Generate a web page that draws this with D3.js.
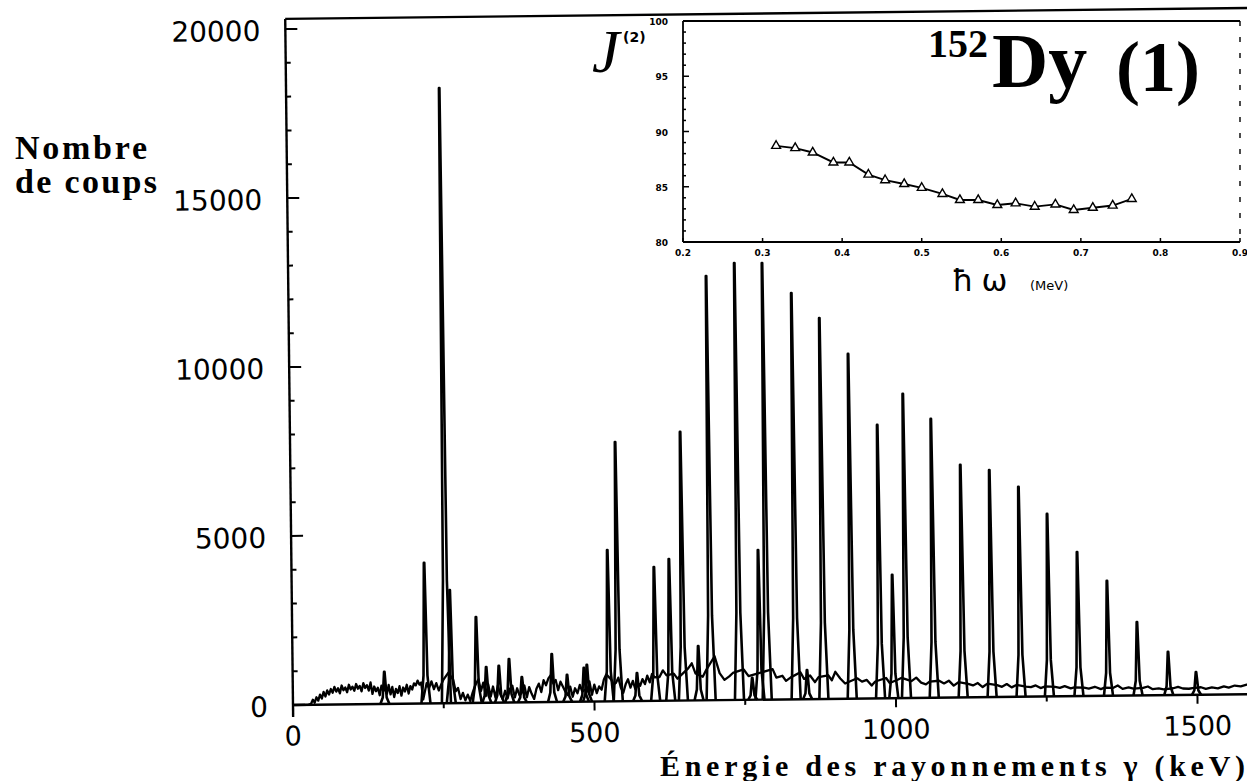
<!DOCTYPE html>
<html>
<head>
<meta charset="utf-8">
<script src="https://cdn.jsdelivr.net/npm/d3@7"></script>
<style>
  html, body { margin: 0; padding: 0; background: #fff; }
  svg { display: block; }
</style>
</head>
<body>
<script>
// ---------------- DATA ----------------
// Main spectrum: discrete gamma lines (keV, counts)
const peakEnergy = [152, 220, 254, 262, 305, 321, 342, 359, 380, 430, 455, 483, 488,
  524, 539, 571, 601, 626, 647, 673, 693, 740, 762, 774, 786, 834, 853, 880, 927, 974, 996,
  1017, 1063, 1111, 1159, 1207, 1254, 1303, 1352, 1401, 1452, 1498];
const peakCounts = [950, 4160, 18200, 3350, 2540, 1060, 1090, 1290, 750, 1420, 800, 1000, 1090,
  4480, 7670, 830, 3960, 4190, 7950, 1610, 12550, 12930, 650, 4430, 12920, 12020, 860, 11270, 10200, 8090, 3650,
  9000, 8250, 6880, 6720, 6210, 5400, 4260, 3400, 2170, 1280, 670];

// Main spectrum: continuum / background trace (keV, counts)
const bgEnergy = [0, 25,
  30, 33, 36, 39, 42, 45, 48, 51, 54, 57, 60, 63, 66, 69, 72, 75, 78, 81, 84, 87, 90, 93, 96, 99,
  102, 105, 108, 111, 114, 117, 120, 123, 126, 129, 132, 135, 138, 141, 144, 147, 150, 153, 156, 159,
  162, 165, 168, 171, 174, 177, 180, 183, 186, 189, 192, 195, 198, 201, 204, 207, 210, 213, 216,
  222, 226, 230, 234, 238, 242, 246, 250, 258, 266, 270, 274, 278, 282, 286, 290, 294, 298, 302, 308,
  312, 316, 320, 324, 328, 332, 336, 340, 344, 348, 352, 356, 360, 364, 368, 372, 376, 380, 384, 388,
  392, 396, 400, 404, 408, 412, 416, 420, 424, 428, 432, 436, 440, 444, 448, 452, 456, 460, 464, 468,
  472, 476, 480, 484, 488, 492, 496, 500, 504, 508, 512, 516, 520, 528, 532, 536, 540, 544, 548, 552,
  556, 560, 564, 568, 572, 576, 580, 584, 588, 592, 596, 600,
  608, 614, 620, 632, 638, 656, 662, 668, 680, 686, 700, 708, 716, 724, 730, 748, 756, 766, 796, 802,
  812, 818, 826, 842, 848, 858, 866, 872, 888, 894, 900, 908, 916, 936, 944, 952, 960, 966, 984, 990,
  1004, 1010, 1026, 1034, 1042, 1050, 1056, 1072, 1080, 1088, 1096, 1104, 1120, 1128, 1136, 1144, 1152, 1168, 1176, 1184,
  1192, 1200, 1216, 1224, 1232, 1240, 1248, 1264, 1272, 1280, 1290, 1296, 1312, 1320, 1330, 1340, 1346, 1360, 1368, 1376,
  1386, 1394, 1410, 1418, 1426, 1436, 1444, 1460, 1468, 1476, 1486, 1492, 1506, 1514, 1524, 1534, 1544, 1552, 1562, 1572,
  1582, 1590];
const bgCounts = [0, 0,
  30, 150, 60, 220, 120, 300, 180, 380, 240, 420, 300, 460, 350, 520, 380, 480, 330, 560, 420, 500, 360, 580, 440, 520,
  400, 600, 460, 540, 380, 620, 480, 560, 400, 640, 300, 520, 380, 480, 260, 540, 380, 460, 300, 560,
  280, 500, 200, 440, 320, 520, 240, 480, 360, 560, 300, 520, 420, 600, 540, 680, 560, 620, 120,
  600, 450, 650, 420, 600, 380, 550, 700, 900, 700, 350, 450, 120, 300, 80, 250, 60, 300, 500, 700,
  350, 600, 200, 550, 180, 480, 150, 500, 250, 100, 350, 120, 400, 500, 150, 420, 200, 300, 500, 150,
  450, 250, 100, 400, 550, 300, 650, 500, 700, 800, 550, 650, 350, 600, 450, 300, 200, 450, 150, 400,
  250, 500, 300, 350, 300, 600, 200, 500, 250, 450, 350, 650, 800, 650, 500, 550, 700, 400, 250, 500,
  650, 400, 600, 350, 550, 450, 650, 500, 750, 550, 800, 700,
  700, 900, 750, 800, 650, 950, 1100, 800, 700, 900, 1300, 800, 600, 700, 800, 900, 700, 750, 900, 650,
  700, 550, 650, 800, 600, 700, 500, 650, 700, 550, 800, 600, 450, 600, 500, 550, 380, 500, 600, 450,
  550, 600, 500, 600, 450, 400, 480, 500, 420, 500, 350, 450, 400, 350, 420, 300, 400, 350, 300, 380,
  280, 350, 300, 280, 330, 250, 300, 280, 250, 300, 230, 260, 250, 220, 270, 200, 240, 230, 300, 200,
  240, 200, 220, 260, 180, 200, 170, 200, 240, 190, 180, 200, 220, 170, 210, 180, 240, 200, 260, 230,
  280, 300];

const yTickValues = [0, 5000, 10000, 15000, 20000];
const xTickValues = [0, 500, 1000, 1500];

// Inset: J(2) dynamic moment of inertia vs rotational frequency
const hw = [0.317, 0.341, 0.363, 0.389, 0.409, 0.433, 0.454, 0.478, 0.500, 0.526,
  0.548, 0.571, 0.595, 0.618, 0.642, 0.668, 0.691, 0.715, 0.740, 0.764];
const j2 = [88.7, 88.5, 88.1, 87.2, 87.2, 86.1, 85.6, 85.25, 84.9, 84.35,
  83.8, 83.8, 83.35, 83.5, 83.2, 83.4, 82.9, 83.1, 83.3, 83.9];
const insetYTicks = [80, 85, 90, 95, 100];
const insetXTicks = [0.2, 0.3, 0.4, 0.5, 0.6, 0.7, 0.8, 0.9];

// ---------------- DRAW ----------------
const W = 1247, H = 781;
const svg = d3.select("body").append("svg").attr("width", W).attr("height", H);
svg.append("rect").attr("width", W).attr("height", H).attr("fill", "#fff");

const x = d3.scaleLinear().domain([0, 1500]).range([293, 1197.5]);
const y = d3.scaleLinear().domain([0, 20000]).range([705, 29]);

// slight scan skew of the original page
const g = svg.append("g").attr("transform", "rotate(-0.65,293,705)");

const ink = "#000";
const topVal = 20300;

// frame: y axis, top line, baseline
g.append("line").attr("x1", x(0)).attr("x2", x(0)).attr("y1", y(topVal)).attr("y2", y(0) + 12)
  .attr("stroke", ink).attr("stroke-width", 2.4);
g.append("line").attr("x1", x(0)).attr("x2", x(1700)).attr("y1", y(topVal)).attr("y2", y(topVal))
  .attr("stroke", ink).attr("stroke-width", 2.4);
g.append("line").attr("x1", x(0)).attr("x2", x(1700)).attr("y1", y(0)).attr("y2", y(0))
  .attr("stroke", ink).attr("stroke-width", 2.4);

// y ticks (inward)
const yMinor = d3.range(0, 20001, 1000);
g.selectAll(".ytick").data(yMinor).join("line")
  .attr("x1", x(0)).attr("x2", d => x(0) + (d % 5000 === 0 ? 12 : 5))
  .attr("y1", d => y(d)).attr("y2", d => y(d))
  .attr("stroke", ink).attr("stroke-width", 2);
g.selectAll(".ylab").data(yTickValues).join("text")
  .attr("x", x(0) - 25).attr("y", d => y(d) + 2)
  .attr("text-anchor", "end").attr("dominant-baseline", "central")
  .attr("font-family", "DejaVu Sans, sans-serif").attr("font-size", 28)
  .text(d => d);

// x ticks (outward, every 250 keV)
const xMinor = d3.range(0, 1751, 250);
g.selectAll(".xtick").data(xMinor).join("line")
  .attr("x1", d => x(d)).attr("x2", d => x(d))
  .attr("y1", y(0)).attr("y2", d => y(0) + (d % 500 === 0 ? 9 : 5))
  .attr("stroke", ink).attr("stroke-width", 2);
g.selectAll(".xlab").data(xTickValues).join("text")
  .attr("x", d => x(d)).attr("y", y(0) + 31)
  .attr("text-anchor", "middle").attr("dominant-baseline", "central")
  .attr("font-family", "DejaVu Sans, sans-serif").attr("font-size", 27)
  .text(d => d);

// spectrum background trace
const bgPts = d3.zip(bgEnergy, bgCounts);
g.append("path").datum(bgPts)
  .attr("d", d3.line().x(d => x(d[0])).y(d => y(d[1])))
  .attr("fill", "none").attr("stroke", ink).attr("stroke-width", 2.3).attr("stroke-linejoin", "round");

// spectrum peaks (narrow line profile glyph)
const peakShape = [[-7, 0], [-3, 0.2], [-1.2, 0.75], [-0.4, 1], [0.4, 1], [1.4, 0.75], [3.5, 0.2], [8, 0]];
const peakLine = d3.line().x(d => d[0]).y(d => d[1]);
g.selectAll(".peak").data(d3.zip(peakEnergy, peakCounts)).join("path")
  .attr("d", ([e, c]) => peakLine(peakShape.map(([dk, f]) => [x(e + dk), y(f * c)])))
  .attr("fill", "none").attr("stroke", ink).attr("stroke-width", 2.6).attr("stroke-linejoin", "round");

// axis titles
const serif = "Liberation Serif, Times New Roman, serif";
svg.append("text").attr("x", 15).attr("y", 159).attr("font-family", serif)
  .attr("font-weight", "bold").attr("font-size", 34)
  .attr("textLength", 132).attr("lengthAdjust", "spacing").text("Nombre");
svg.append("text").attr("x", 15).attr("y", 193).attr("font-family", serif)
  .attr("font-weight", "bold").attr("font-size", 34)
  .attr("textLength", 142).attr("lengthAdjust", "spacing").text("de coups");
svg.append("text").attr("x", 660).attr("y", 776).attr("font-family", serif)
  .attr("font-weight", "bold").attr("font-size", 30)
  .attr("textLength", 585).attr("lengthAdjust", "spacing")
  .text("Énergie des rayonnements γ (keV)");

// ---------------- INSET ----------------
const ix = d3.scaleLinear().domain([0.2, 0.9]).range([683, 1240]);
const iy = d3.scaleLinear().domain([80, 100]).range([242, 21]);
const ig = svg.append("g");

ig.append("line").attr("x1", ix(0.2)).attr("x2", ix(0.2)).attr("y1", iy(100)).attr("y2", iy(80))
  .attr("stroke", ink).attr("stroke-width", 1.8);
ig.append("line").attr("x1", ix(0.2)).attr("x2", ix(0.9)).attr("y1", iy(80)).attr("y2", iy(80))
  .attr("stroke", ink).attr("stroke-width", 1.8);
ig.append("line").attr("x1", ix(0.2)).attr("x2", ix(0.9)).attr("y1", iy(100)).attr("y2", iy(100))
  .attr("stroke", ink).attr("stroke-width", 1.8);
ig.append("line").attr("x1", ix(0.9)).attr("x2", ix(0.9)).attr("y1", iy(100)).attr("y2", iy(80))
  .attr("stroke", ink).attr("stroke-width", 1.4).attr("stroke-dasharray", "5,11");

ig.selectAll(".iyt").data(d3.range(80, 100.01, 1)).join("line")
  .attr("x1", ix(0.2)).attr("x2", d => ix(0.2) + (d % 5 === 0 ? 6 : 3))
  .attr("y1", d => iy(d)).attr("y2", d => iy(d))
  .attr("stroke", ink).attr("stroke-width", 1.5);
ig.selectAll(".ixt").data(insetXTicks).join("line")
  .attr("x1", d => ix(d)).attr("x2", d => ix(d))
  .attr("y1", iy(80)).attr("y2", iy(80) - 4)
  .attr("stroke", ink).attr("stroke-width", 1.5);

ig.selectAll(".iyl").data(insetYTicks).join("text")
  .attr("x", ix(0.2) - 15).attr("y", d => iy(d) + 1)
  .attr("text-anchor", "end").attr("dominant-baseline", "central")
  .attr("font-family", "DejaVu Sans, sans-serif").attr("font-weight", "bold").attr("font-size", 9)
  .text(d => d);
ig.selectAll(".ixl").data(insetXTicks).join("text")
  .attr("x", d => ix(d)).attr("y", iy(80) + 11)
  .attr("text-anchor", "middle").attr("dominant-baseline", "central")
  .attr("font-family", "DejaVu Sans, sans-serif").attr("font-weight", "bold").attr("font-size", 9)
  .text(d => d.toFixed(1));

const ipts = d3.zip(hw, j2);
ig.append("path").datum(ipts)
  .attr("d", d3.line().x(d => ix(d[0])).y(d => iy(d[1])))
  .attr("fill", "none").attr("stroke", ink).attr("stroke-width", 1.9);
ig.selectAll(".mk").data(ipts).join("path")
  .attr("transform", d => `translate(${ix(d[0])},${iy(d[1])})`)
  .attr("d", d3.symbol(d3.symbolTriangle).size(34))
  .attr("fill", "#fff").attr("stroke", ink).attr("stroke-width", 1.4);

// inset labels
svg.append("text").attr("x", 592).attr("y", 72).attr("font-family", serif)
  .attr("font-style", "italic").attr("font-size", 62).text("J");
svg.append("text").attr("x", 623).attr("y", 42).attr("font-family", "DejaVu Sans, sans-serif")
  .attr("font-weight", "bold").attr("font-size", 14).text("(2)");

const title = svg.append("text").attr("font-family", serif).attr("font-weight", "bold");
title.append("tspan").attr("x", 928).attr("y", 57).attr("font-size", 40).text("152");
title.append("tspan").attr("x", 992).attr("y", 87).attr("font-size", 78).text("Dy");
title.append("tspan").attr("x", 1116).attr("y", 91).attr("font-size", 72).text("(1)");

svg.append("text").attr("x", 952).attr("y", 291).attr("font-family", "DejaVu Sans, sans-serif")
  .attr("font-size", 31).attr("letter-spacing", 8).text("ħω");
svg.append("text").attr("x", 1030).attr("y", 290).attr("font-family", "DejaVu Sans, sans-serif")
  .attr("font-size", 13).text("(MeV)");
</script>
</body>
</html>
